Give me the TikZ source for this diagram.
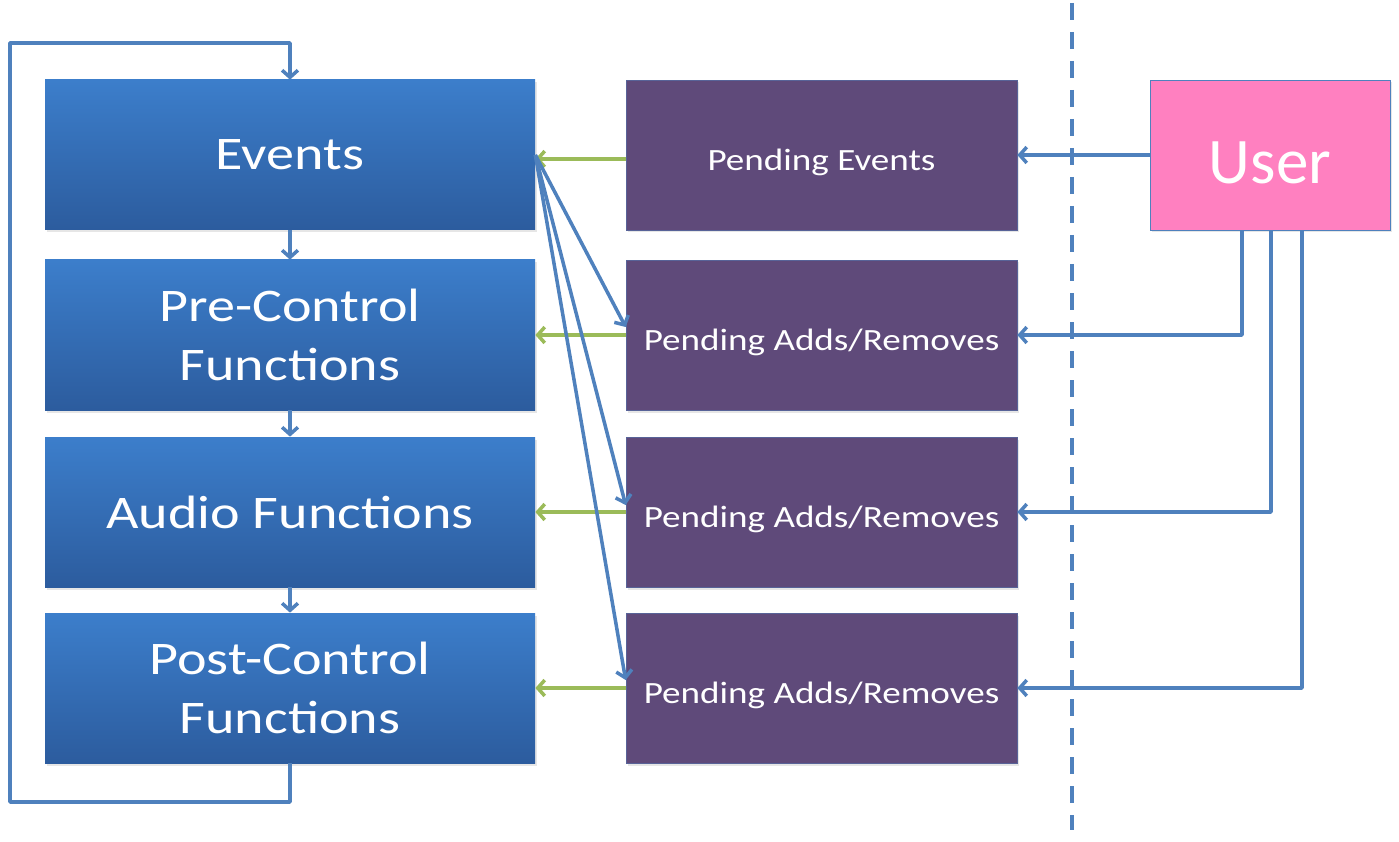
\documentclass[tikz,border=0pt]{standalone}
\usepackage{fontspec}
\setmainfont{Carlito}
\newfontfamily\boxfont{Carlito}[FakeStretch=1.2]
\usetikzlibrary{arrows.meta,calc,shadows}
\definecolor{ptblue}{RGB}{79,129,189}
\definecolor{ptboxtop}{RGB}{60,126,203}
\definecolor{ptboxbot}{RGB}{44,92,158}
\definecolor{ptpurple}{RGB}{95,74,122}
\definecolor{ptpink}{RGB}{255,128,192}
\definecolor{ptgreen}{RGB}{155,187,89}

\begin{document}
\begin{tikzpicture}[
    stagebox/.style={minimum width=9.8cm, minimum height=3cm, inner sep=0pt,
      top color=ptboxtop, bottom color=ptboxbot, text=white, align=center,
      drop shadow={opacity=0.2, shadow xshift=0.04cm, shadow yshift=-0.05cm},
      font=\boxfont\fontsize{26.6}{34}\selectfont},
    pendbox/.style={minimum width=7.82cm, minimum height=3cm, inner sep=0pt,
      fill=ptpurple, draw=ptblue!45!ptpurple, thin, text=white,
      text height=21pt, text depth=3.5pt,
      drop shadow={opacity=0.2, shadow xshift=0.04cm, shadow yshift=-0.05cm},
      font=\boxfont\fontsize{17.6}{21}\selectfont},
    userbox/.style={minimum width=4.8cm, minimum height=3cm, inner sep=0pt,
      fill=ptpink, draw=ptblue, thin, text=white,
      text height=32pt, text depth=0pt,
      drop shadow={opacity=0.2, shadow xshift=0.04cm, shadow yshift=-0.05cm},
      font=\fontsize{37}{44}\selectfont},
    flow/.style={draw=ptblue, line width=2pt, line join=round,
      -{Straight Barb[length=4pt,width=9pt,line width=2pt]}},
    feed/.style={draw=ptgreen, line width=2pt,
      -{Straight Barb[length=4pt,width=9pt,line width=2pt]}}
  ]
  \useasboundingbox (0,0) rectangle (27.98,16.82);

  % Processing stages
  \node[stagebox] (ev)   at (5.8,13.72) {Events};
  \node[stagebox] (pre)  at (5.8,10.12) {Pre-Control\\Functions};
  \node[stagebox] (aud)  at (5.8,6.58)  {Audio Functions};
  \node[stagebox] (post) at (5.8,3.06)  {Post-Control\\Functions};

  % Pending queues
  \node[pendbox] (pe)  at (16.43,13.72) {Pending Events};
  \node[pendbox] (pa1) at (16.43,10.12) {Pending Adds/Removes};
  \node[pendbox] (pa2) at (16.43,6.58)  {Pending Adds/Removes};
  \node[pendbox] (pa3) at (16.43,3.06)  {Pending Adds/Removes};

  % User side
  \node[userbox] (user) at (25.4,13.72) {User};
  \draw[ptblue, line width=2.2pt, dash pattern=on 0.34cm off 0.24cm]
    (21.44,16.76) -- (21.44,0.22);

  % Stage chain and loop back
  \draw[flow] (ev) -- (pre);
  \draw[flow] (pre) -- (aud);
  \draw[flow] (aud) -- (post);
  \coordinate (loopbl) at (0.2,0.78);
  \coordinate (looptl) at (0.2,15.96);
  \draw[flow] (post.south) |- (loopbl) -- (looptl) -| (ev.north);

  % Queues feeding the stages
  \draw[feed] ($(pe.west)+(0,-0.08)$) -- ($(ev.east)+(0,-0.08)$);
  \draw[feed] (pa1) -- (pre);
  \draw[feed] (pa2) -- (aud);
  \draw[feed] (pa3) -- (post);

  % Events fan out to the add/remove queues
  \draw[flow] (ev.east) -- ($(pa1.west)+(0,0.16)$);
  \draw[flow] (ev.east) -- ($(pa2.west)+(0,0.14)$);
  \draw[flow] (ev.east) -- ($(pa3.west)+(0,0.16)$);

  % User requests
  \draw[flow] (user) -- (pe);
  \draw[flow] ($(user.south)+(-0.56,0)$) |- (pa1);
  \draw[flow] ($(user.south)+(0.02,0)$) |- (pa2);
  \draw[flow] ($(user.south)+(0.64,0)$) |- (pa3);
\end{tikzpicture}
\end{document}
